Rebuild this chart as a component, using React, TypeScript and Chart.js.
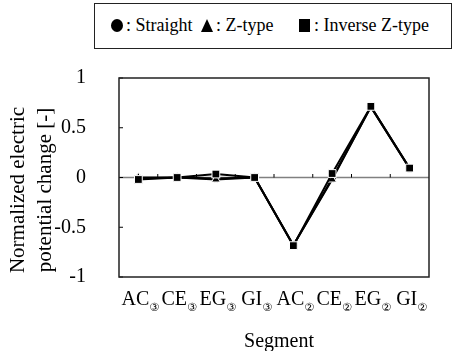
import React, { useEffect, useRef } from "react";
import { Chart, registerables } from "chart.js";

Chart.register(...registerables);

const categories = ["AC", "CE", "EG", "GI", "AC", "CE", "EG", "GI"];
const subscripts = ["③", "③", "③", "③", "②", "②", "②", "②"];
const straight = [-0.01, 0, -0.01, 0, -0.68, -0.01, 0.71, 0.09];
const zType = [0.0, 0, -0.02, 0, -0.68, -0.02, 0.71, 0.09];
const inverseZ = [-0.02, 0, 0.035, 0, -0.685, 0.04, 0.715, 0.095];
const yTicks = [-1, -0.5, 0, 0.5, 1];
const yTitleLines = ["Normalized electric", "potential change [-]"];
const xTitle = "Segment";
const legendItems = [": Straight", ": Z-type", ": Inverse Z-type"];

const SERIF = "'Liberation Serif', 'Times New Roman', serif";

const decorPlugin = {
  id: "decor",
  beforeDatasetsDraw(chart: any) {
    const { ctx, chartArea } = chart;
    const x = chart.scales.x;
    const y = chart.scales.y;
    const y0 = y.getPixelForValue(0);
    ctx.save();
    // zero line
    ctx.strokeStyle = "#808080";
    ctx.lineWidth = 1.5;
    ctx.beginPath();
    ctx.moveTo(chartArea.left, y0);
    ctx.lineTo(chartArea.right, y0);
    ctx.stroke();
    // category boundary ticks on zero line
    ctx.strokeStyle = "#000";
    ctx.lineWidth = 1;
    for (let i = 1; i < categories.length; i++) {
      const bx = (x.getPixelForValue(i - 1) + x.getPixelForValue(i)) / 2;
      ctx.beginPath();
      ctx.moveTo(bx, y0);
      ctx.lineTo(bx, y0 - 3.5);
      ctx.stroke();
    }
    // y ticks inward
    yTicks.forEach((v) => {
      const py = y.getPixelForValue(v);
      ctx.beginPath();
      ctx.moveTo(chartArea.left, py);
      ctx.lineTo(chartArea.left + 4, py);
      ctx.stroke();
    });
    // frame
    ctx.strokeStyle = "#222";
    ctx.lineWidth = 1.5;
    ctx.strokeRect(chartArea.left, chartArea.top, chartArea.right - chartArea.left, chartArea.bottom - chartArea.top);
    ctx.restore();
  },
  afterDraw(chart: any) {
    const { ctx, chartArea } = chart;
    const x = chart.scales.x;
    ctx.save();
    ctx.fillStyle = "#000";
    ctx.textBaseline = "alphabetic";
    // x labels with subscripts
    categories.forEach((c, i) => {
      const cx = x.getPixelForValue(i);
      ctx.font = `20px ${SERIF}`;
      const wm = ctx.measureText(c).width;
      ctx.font = `11px 'DejaVu Sans', ${SERIF}`;
      const ws = ctx.measureText(subscripts[i]).width;
      const start = cx - (wm + ws) / 2 + 2;
      ctx.font = `20px ${SERIF}`;
      ctx.textAlign = "left";
      ctx.fillText(c, start, 305);
      ctx.font = `11px 'DejaVu Sans', ${SERIF}`;
      ctx.fillText(subscripts[i], start + wm, 311);
    });
    // x title
    ctx.font = `20px ${SERIF}`;
    ctx.textAlign = "center";
    ctx.textBaseline = "middle";
    ctx.fillText(xTitle, (chartArea.left + chartArea.right) / 2 + 5, 342);
    // y title
    ctx.font = `21px ${SERIF}`;
    const centers = [18, 45];
    yTitleLines.forEach((t, i) => {
      ctx.save();
      ctx.translate(centers[i], 190);
      ctx.rotate(-Math.PI / 2);
      ctx.fillText(t, 0, 0);
      ctx.restore();
    });
    ctx.restore();
  },
};

function LegendBox() {
  const marker = (shape: string, left: number) => {
    const base: any = { position: "absolute", left, top: 15 };
    if (shape === "circle")
      return <div style={{ ...base, width: 12, height: 13, borderRadius: "50%", background: "#000" }} />;
    if (shape === "triangle")
      return (
        <div
          style={{
            ...base,
            width: 0,
            height: 0,
            borderLeft: "6px solid transparent",
            borderRight: "6px solid transparent",
            borderBottom: "13px solid #000",
          }}
        />
      );
    return <div style={{ ...base, width: 11, height: 13, background: "#000" }} />;
  };
  const text = (t: string, left: number) => (
    <span style={{ position: "absolute", left, top: 10, fontFamily: SERIF, fontSize: 18, lineHeight: "23px", whiteSpace: "nowrap" }}>
      {t}
    </span>
  );
  return (
    <div
      style={{
        position: "absolute",
        left: 94,
        top: 3,
        width: 356,
        height: 44,
        border: "1.5px solid #222",
        background: "#fff",
      }}
    >
      {marker("circle", 16)}
      {text(legendItems[0], 31)}
      {marker("triangle", 106)}
      {text(legendItems[1], 121)}
      {marker("square", 204)}
      {text(legendItems[2], 219)}
    </div>
  );
}

export default function App() {
  const ref = useRef<HTMLCanvasElement>(null);
  useEffect(() => {
    if (!ref.current) return;
    const common = {
      borderColor: "#000",
      borderWidth: 2,
      pointBackgroundColor: "#000",
      pointBorderColor: "#fff",
      pointBorderWidth: 1,
      tension: 0,
      fill: false,
    };
    const chart = new Chart(ref.current, {
      type: "line",
      data: {
        labels: categories.map((c, i) => c + subscripts[i]),
        datasets: [
          { ...common, label: "Straight", data: straight, pointStyle: "circle", pointRadius: 4, order: 2 },
          { ...common, label: "Z-type", data: zType, pointStyle: "triangle", pointRadius: 5, order: 1 },
          { ...common, label: "Inverse Z-type", data: inverseZ, pointStyle: "rect", pointRadius: 5.5, order: 0 },
        ],
      },
      options: {
        responsive: false,
        animation: false,
        layout: { padding: { top: 78, right: 23, left: 0, bottom: 0 } },
        plugins: { legend: { display: false }, tooltip: { enabled: false } },
        scales: {
          x: {
            type: "category",
            offset: true,
            grid: { display: false, drawTicks: false },
            border: { display: false },
            ticks: { display: false },
            afterFit: (s: any) => {
              s.height = 74;
            },
          },
          y: {
            min: -1,
            max: 1,
            grid: { display: false, drawTicks: false },
            border: { display: false },
            ticks: {
              stepSize: 0.5,
              padding: 33,
              color: "#000",
              font: { family: SERIF, size: 20 },
              callback: (v: any) => String(v),
            },
            afterFit: (s: any) => {
              s.width = 119;
            },
          },
        },
      },
      plugins: [decorPlugin],
    } as any);
    return () => chart.destroy();
  }, []);
  return (
    <div style={{ position: "absolute", left: 0, top: 0, width: 452, height: 351, background: "#fff" }}>
      <canvas ref={ref} width={452} height={351} style={{ display: "block" }} />
      <LegendBox />
    </div>
  );
}
